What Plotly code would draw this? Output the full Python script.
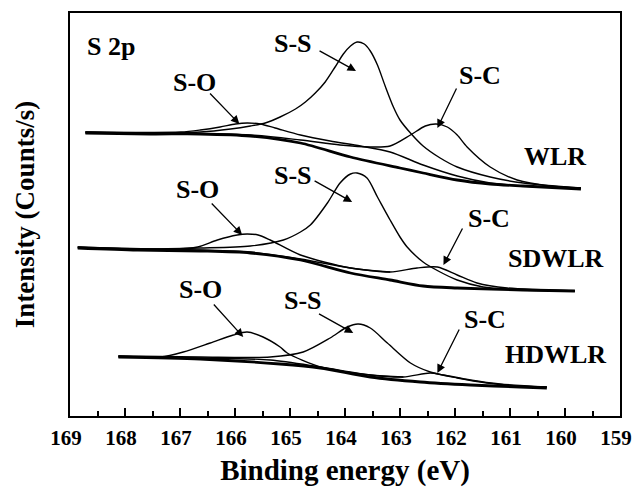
import plotly.graph_objects as go

# ---------------- data (binding energy in eV, intensity in arbitrary counts/s) ----------------
# WLR
wlr_bg_e = [168.72, 167.54, 166.63, 165.72, 164.81, 163.90, 163.00, 162.58, 161.96, 161.36, 160.76, 159.71]
wlr_bg_i = [283, 282, 282, 280, 273, 259, 248, 243, 236, 232, 230, 227]
wlr_so_e = [168.72, 166.99, 166.63, 166.27, 165.99, 165.78, 165.54, 165.27, 164.81, 164.27, 163.72, 163.18,
            162.58, 161.96, 161.36, 160.76, 159.71]
wlr_so_i = [284, 284, 286, 289, 292, 293, 292, 288, 281, 275, 270, 264, 251, 240, 233, 230, 228]
wlr_sc_e = [168.72, 165.72, 164.81, 164.09, 163.54, 163.18, 162.81, 162.54, 162.34, 162.14, 161.96, 161.78,
            161.36, 160.87, 160.27, 159.71]
wlr_sc_i = [283, 281, 276, 271, 269, 270, 281, 290, 292, 289, 281, 269, 249, 236, 230, 228]
wlr_ss_e = [168.72, 167.54, 166.63, 166.08, 165.72, 165.45, 165.18, 164.90, 164.72, 164.54, 164.36, 164.18,
            164.03, 163.90, 163.78, 163.65, 163.54, 163.41, 163.27, 163.12, 163.00, 162.81, 162.58, 162.27,
            161.96, 161.36, 160.76, 159.71]
wlr_ss_i = [284, 283, 284, 287, 290, 293, 299, 307, 314, 323, 334, 349, 362, 370, 374, 372, 365, 351, 330,
            309, 296, 283, 270, 258, 249, 239, 233, 228]

# SDWLR
sd_ss_e = [168.86, 167.77, 166.63, 165.72, 165.12, 164.81, 164.63, 164.32, 164.09, 163.90, 163.78, 163.60,
           163.41, 163.18, 163.00, 162.87, 162.58, 162.27, 161.96, 161.49, 160.76, 159.82]
sd_ss_i = [169, 167, 168, 170, 176, 184, 191, 213, 233, 242, 243, 238, 219, 196, 179, 169, 154, 144, 136,
           129, 126, 125]
sd_so_e = [168.86, 167.17, 166.68, 166.32, 165.96, 165.78, 165.58, 165.36, 164.81, 163.90, 163.18]
sd_so_i = [169, 167, 169, 176, 181, 182, 181, 176, 161, 148, 144]
sd_sc_e = [168.86, 166.63, 165.72, 164.81, 163.90, 163.18, 162.69, 162.32, 161.96, 161.60, 161.05, 159.82]
sd_sc_i = [168, 166, 164, 157, 148, 144, 148, 149, 141, 133, 128, 125]
sd_bg_e = [168.86, 167.77, 166.63, 165.72, 164.81, 163.90, 163.18, 162.58, 161.96, 160.76, 159.82]
sd_bg_i = [168, 166, 165, 163, 156, 143, 136, 130, 128, 126, 125]

# HDWLR
hd_so_e = [168.12, 167.36, 166.94, 166.45, 166.03, 165.78, 165.49, 165.18, 165.05, 164.45, 163.54, 162.94]
hd_so_i = [60, 59, 64, 73, 81, 84, 79, 69, 63, 49, 41, 39]
hd_ss_e = [168.12, 166.63, 165.36, 164.76, 164.27, 163.96, 163.76, 163.54, 163.23, 162.81, 162.45, 161.96,
           161.42, 160.82, 160.33]
hd_ss_i = [60, 59, 59, 64, 78, 89, 92, 88, 73, 53, 44, 38, 33, 30, 29]
hd_sc_e = [168.12, 166.63, 165.36, 164.45, 163.54, 162.94, 162.45, 162.21, 161.72, 161.18, 160.33]
hd_sc_i = [59, 58, 56, 49, 41, 39, 43, 41, 36, 32, 29]
hd_bg_e = [168.12, 166.63, 165.18, 164.45, 163.54, 162.63, 161.72, 160.82, 160.33]
hd_bg_i = [59, 57, 52, 48, 39, 34, 31, 29, 28]

x_ticks = list(range(159, 170))

# text labels: (text, E, I)
labels = [
    ("S 2p", 168.25, 370),
    ("S-O", 166.74, 334), ("S-S", 164.94, 373), ("S-C", 161.54, 341), ("WLR", 160.18, 260),
    ("S-O", 166.68, 227), ("S-S", 164.94, 241), ("S-C", 161.38, 198), ("SDWLR", 160.16, 158),
    ("S-O", 166.63, 127), ("S-S", 164.76, 116), ("S-C", 161.45, 97), ("HDWLR", 160.18, 62),
]
# arrows: (tail E, tail I, head E, head I)
arrows = [
    (166.48, 324, 165.92, 292), (164.49, 366, 163.80, 345), (161.96, 329, 162.32, 288),
    (166.45, 214, 165.87, 181), (164.58, 236, 163.87, 214), (161.85, 189, 162.21, 151),
    (166.41, 113, 165.85, 79), (164.50, 103, 163.85, 83), (161.91, 88, 162.32, 43),
]

# ---------------- figure ----------------
FONT = "Liberation Serif, Times New Roman, serif"
fig = go.Figure()

series = [
    (wlr_bg_e, wlr_bg_i, 2.8), (wlr_so_e, wlr_so_i, 1.4), (wlr_sc_e, wlr_sc_i, 1.4), (wlr_ss_e, wlr_ss_i, 1.4),
    (sd_bg_e, sd_bg_i, 2.8), (sd_so_e, sd_so_i, 1.4), (sd_sc_e, sd_sc_i, 1.4), (sd_ss_e, sd_ss_i, 1.4),
    (hd_bg_e, hd_bg_i, 2.8), (hd_so_e, hd_so_i, 1.4), (hd_sc_e, hd_sc_i, 1.4), (hd_ss_e, hd_ss_i, 1.4),
]
for e, i, w in series:
    fig.add_trace(go.Scatter(x=e, y=i, mode="lines",
                             line=dict(color="black", width=w, shape="spline", smoothing=0.8),
                             showlegend=False, hoverinfo="skip"))

for t, e, i in labels:
    fig.add_annotation(x=e, y=i, text=t, showarrow=False, xanchor="center", yanchor="middle",
                       font=dict(family=FONT, size=26, color="black", weight="bold"))
for te, ti, he, hi in arrows:
    fig.add_annotation(x=he, y=hi, ax=te, ay=ti, axref="x", ayref="y", xref="x", yref="y",
                       text="", showarrow=True, arrowhead=2, arrowsize=1.3, arrowwidth=1.3,
                       arrowcolor="black", standoff=0, startstandoff=0)

fig.update_layout(
    width=634, height=487,
    margin=dict(l=70, r=14, t=13, b=71),
    paper_bgcolor="white", plot_bgcolor="white",
    xaxis=dict(
        range=[169, 159], tickvals=x_ticks, ticktext=[str(v) for v in x_ticks],
        ticks="inside", ticklen=8, tickwidth=1.5, tickcolor="black",
        minor=dict(ticks="inside", ticklen=5, tickwidth=1.5, tickcolor="black", dtick=0.5, showgrid=False),
        showline=True, linewidth=2, linecolor="black", mirror=True,
        showgrid=False, zeroline=False, ticklabeloverflow="allow", ticklabelstandoff=2,
        ticklabelshift=4, automargin=False,
        tickfont=dict(family=FONT, size=21, color="black", weight="bold"),
        title=dict(text="Binding energy (eV)", standoff=20,
                   font=dict(family=FONT, size=29, color="black", weight="bold")),
    ),
    yaxis=dict(
        range=[0, 403], showticklabels=False, ticks="",
        showline=True, linewidth=2, linecolor="black", mirror=True,
        showgrid=False, zeroline=False, automargin=False,
        title=dict(text="Intensity (Counts/s)", standoff=26,
                   font=dict(family=FONT, size=27, color="black", weight="bold")),
    ),
)

fig.write_html("out.html")
